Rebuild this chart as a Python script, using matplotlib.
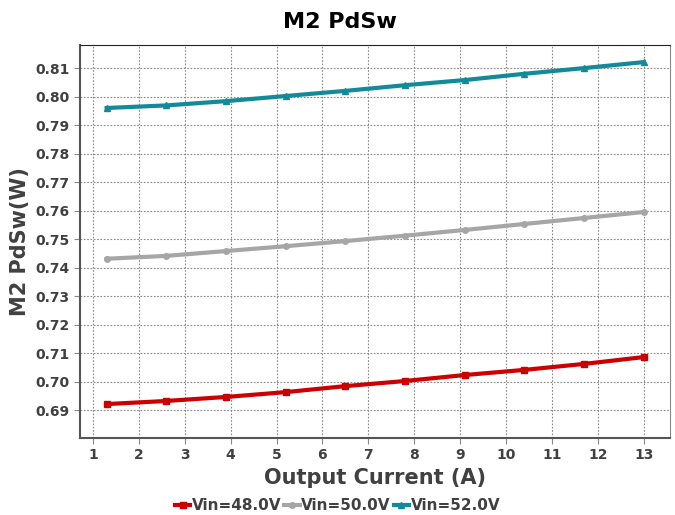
import matplotlib
matplotlib.use("Agg")
import matplotlib.pyplot as plt

x = [1.3, 2.6, 3.9, 5.2, 6.5, 7.8, 9.1, 10.4, 11.7, 13.0]
vin48 = [0.6921, 0.6932, 0.6946, 0.6963, 0.6984, 0.7002, 0.7023, 0.7041, 0.7062, 0.7086]
vin50 = [0.7431, 0.7441, 0.7458, 0.7475, 0.7493, 0.7512, 0.7532, 0.7553, 0.7574, 0.7595]
vin52 = [0.7960, 0.7969, 0.7984, 0.8002, 0.8020, 0.8040, 0.8058, 0.8080, 0.8100, 0.8121]
labels = ["Vin=48.0V", "Vin=50.0V", "Vin=52.0V"]
xticks = list(range(1, 14))
yticks = [0.69, 0.70, 0.71, 0.72, 0.73, 0.74, 0.75, 0.76, 0.77, 0.78, 0.79, 0.80, 0.81]

fig = plt.figure(figsize=(6.75, 5.15), dpi=100)
ax = fig.add_axes([80/675, 1-438/515, 590/675, 393/515])
tc = "#404040"
ax.plot(x, vin48, color="#cc0000", lw=3, marker="s", ms=4, label=labels[0])
ax.plot(x, vin50, color="#a6a6a6", lw=3, marker="o", ms=4, label=labels[1])
ax.plot(x, vin52, color="#128a98", lw=3, marker="^", ms=4, label=labels[2])
ax.set_xlim(0.72, 13.57)
ax.set_ylim(0.6802, 0.8181)
ax.set_xticks(xticks)
ax.set_yticks(yticks)
ax.set_yticklabels([f"{v:.2f}" for v in yticks])
ax.grid(True, color="#888888", ls=(0, (1.5, 1.5)), lw=0.8)
ax.set_axisbelow(True)
for lab in ax.get_xticklabels() + ax.get_yticklabels():
    lab.set_fontweight("bold")
    lab.set_color(tc)
    lab.set_fontsize(10)
ax.tick_params(axis="both", length=4, color="#888888")
for s in ["left", "bottom"]:
    ax.spines[s].set_color("#555555")
    ax.spines[s].set_linewidth(1.5)
ax.spines["top"].set_color("#222222")
ax.spines["right"].set_color("#888888")
ax.set_xlabel("Output Current (A)", fontsize=15, fontweight="bold", color=tc)
ax.set_ylabel("M2 PdSw(W)", fontsize=15, fontweight="bold", color=tc)
fig.text(0.503, 1-22/515, "M2 PdSw", fontsize=16, fontweight="bold", ha="center", va="center")
leg = fig.legend(loc="center", bbox_to_anchor=(0.5, 1-506/515), ncol=3, frameon=False,
                 handlelength=1.0, handletextpad=0.1, columnspacing=0.2,
                 prop={"weight": "bold", "size": 11})
for t in leg.get_texts():
    t.set_color(tc)
fig.savefig("out.png", dpi=100)
